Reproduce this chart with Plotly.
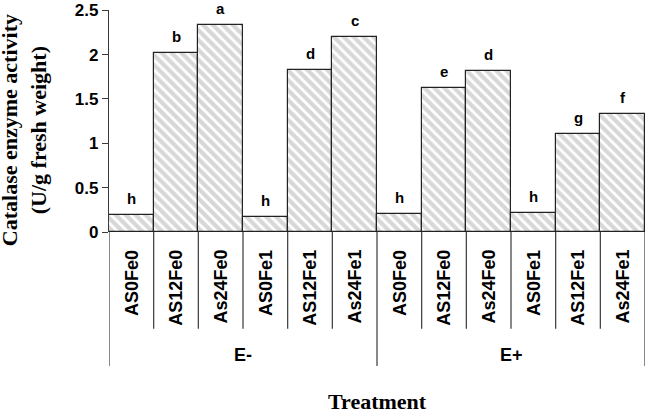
import plotly.graph_objects as go

categories = ["AS0Fe0", "AS12Fe0", "As24Fe0", "AS0Fe1", "AS12Fe1", "As24Fe1",
              "AS0Fe0", "AS12Fe0", "As24Fe0", "AS0Fe1", "AS12Fe1", "As24Fe1"]
groups = ["E-", "E+"]
values = [0.19, 2.02, 2.33, 0.17, 1.83, 2.20, 0.20, 1.62, 1.81, 0.21, 1.10, 1.33]
letters = ["h", "b", "a", "h", "d", "c", "h", "e", "d", "h", "g", "f"]
ytick_vals = [0, 0.5, 1, 1.5, 2, 2.5]
ytick_text = ["0", "0.5", "1", "1.5", "2", "2.5"]

SANS = "Liberation Sans, Arial, sans-serif"
SERIF = "Liberation Serif, Times New Roman, serif"
LINE = "#3a3a3a"

xs = list(range(len(categories)))

fig = go.Figure()
fig.add_trace(go.Bar(
    x=xs, y=values, width=1.0,
    marker=dict(color="white", line=dict(color="#222222", width=1.2),
                pattern=dict(shape="\\", fgcolor="#b0b0b0", bgcolor="white",
                             size=7, solidity=0.6, fillmode="overlay")),
    hoverinfo="skip", showlegend=False,
))

annotations = []
# significance letters
for x, v, t in zip(xs, values, letters):
    annotations.append(dict(x=x, y=v, xref="x", yref="y", text="<b>%s</b>" % t,
                            showarrow=False, yanchor="bottom", yshift=6,
                            font=dict(family=SANS, size=15, color="black")))
# category labels
for x, c in zip(xs, categories):
    annotations.append(dict(x=x, y=-0.071, xref="x", yref="paper", text="<b>%s</b>" % c,
                            showarrow=False, textangle=-90, yanchor="top", xanchor="center",
                            font=dict(family=SANS, size=18, color="black")))
# group labels
n_per = len(categories) // len(groups)
for gi, g in enumerate(groups):
    annotations.append(dict(x=gi * n_per + (n_per - 1) / 2, y=-0.556, xref="x", yref="paper",
                            text="<b>%s</b>" % g, showarrow=False, yanchor="middle",
                            font=dict(family=SANS, size=18, color="black")))
# axis titles
annotations.append(dict(x=0.5, y=-0.764, xref="paper", yref="paper", text="<b>Treatment</b>",
                        showarrow=False, yanchor="middle",
                        font=dict(family=SERIF, size=22, color="black")))
annotations.append(dict(x=-0.158, y=0.46, xref="paper", yref="paper",
                        text="<b>Catalase enzyme activity<br>(U/g fresh weight)</b>",
                        showarrow=False, textangle=-90, xanchor="center", yanchor="middle",
                        font=dict(family=SERIF, size=22, color="black")))

shapes = []
for i in range(len(categories) + 1):
    xb = i - 0.5
    if i == 0 or i == len(categories) or i % n_per == 0:
        y1 = -0.604
    else:
        y1 = -0.436
    shapes.append(dict(type="line", xref="x", yref="paper", x0=xb, x1=xb, y0=0, y1=y1,
                       line=dict(color=LINE, width=1.2)))

fig.update_layout(
    width=646, height=413,
    margin=dict(l=109, r=1, t=7, b=181),
    paper_bgcolor="white", plot_bgcolor="white",
    bargap=0,
    xaxis=dict(range=[-0.5, len(categories) - 0.5], showticklabels=False, ticks="",
               showgrid=False, zeroline=False, showline=False),
    yaxis=dict(range=[0, 2.503], tickvals=ytick_vals, ticktext=["<b>%s</b>" % t for t in ytick_text],
               ticks="outside", ticklen=6, tickcolor=LINE, showline=True, linecolor=LINE,
               linewidth=1.2, showgrid=False, zeroline=False, ticklabeloverflow="allow",
               tickfont=dict(family=SANS, size=17, color="black")),
    annotations=annotations, shapes=shapes,
)

fig.write_html("out.html", config={"displayModeBar": False},
               post_script="document.body.style.margin='0';document.body.style.overflow='hidden';")
